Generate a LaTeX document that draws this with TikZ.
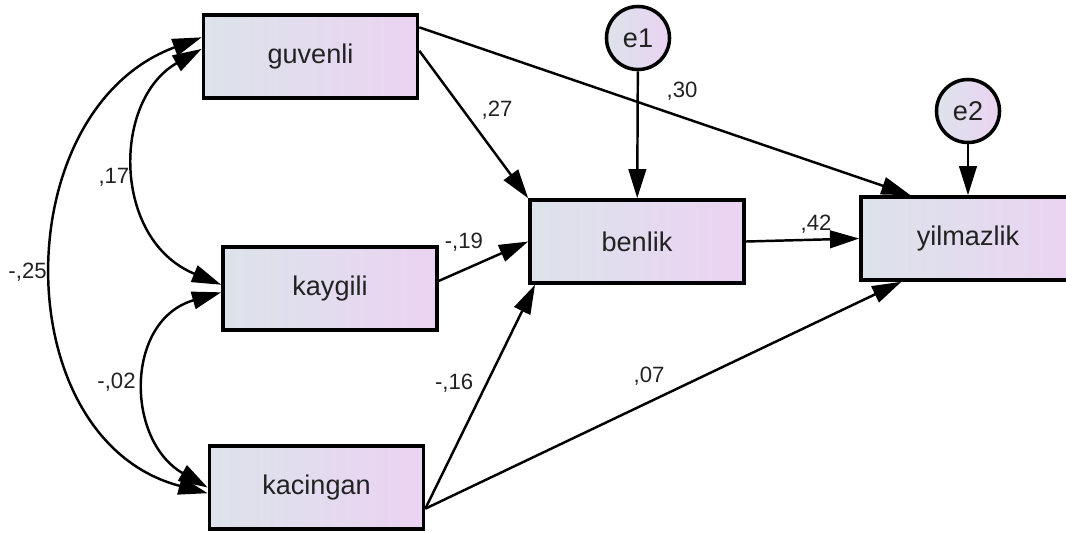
\documentclass[tikz,border=0pt]{standalone}
\usepackage{fontspec}
\setmainfont{Liberation Sans}
\usetikzlibrary{arrows.meta}
\definecolor{boxleft}{HTML}{DCE3EA}
\definecolor{boxright}{HTML}{EBD3F3}
\definecolor{inkgray}{HTML}{222222}

\begin{document}
\begin{tikzpicture}[x=0.01cm,y=-0.01cm,>={Triangle[length=8.3pt,width=5pt]},line width=0.7pt,
	var node/.style={rectangle,draw,line width=1pt,left color=boxleft,right color=boxright,
		minimum width=2.14cm,minimum height=0.83cm,text=inkgray,font=\fontsize{7.7}{9}\selectfont},
	err node/.style={circle,draw,line width=1pt,left color=boxleft,right color=boxright,
		minimum size=0.63cm,inner sep=0pt,text=inkgray,font=\fontsize{7.7}{9}\selectfont},
	coef/.style={font=\fontsize{6.3}{7.5}\selectfont,text=inkgray,inner sep=0pt}]
	
	\useasboundingbox (0,0) rectangle (1066,532);
	
	\node[var node] (guvenli) at (310.5,56.5) {guvenli};
	\node[var node] (kaygili) at (330,288.5) {kaygili};
	\node[var node] (kacingan) at (316.5,487.5) {kacingan};
	\node[var node] (benlik) at (637,241.5) {benlik};
	\node[var node] (yilmazlik) at (968,238.5) {yilmazlik};
	
	\node[err node] (e1) at (638,38) {e1};
	\node[err node] (e2) at (968,111) {e2};
	
	% regression paths
	\path[->]
	(guvenli.3) edge node[coef,pos=0.4,right=5pt] {,27} (benlik.north west)
	(guvenli.15) edge node[coef,pos=0.535,above=4.5pt] {,30} (yilmazlik.143)
	(kaygili.4) edge node[coef,pos=0.28,above=5pt] {-,19} (benlik.west)
	(kacingan.-11) edge node[coef,pos=0.56,left=3.5pt] {-,16} (benlik.203)
	(kacingan.-11) edge node[coef,pos=0.47,above=4.5pt] {,07} (yilmazlik.213)
	(benlik.east) edge node[coef,pos=0.62,above=1.5pt] {,42} (yilmazlik.west)
	(e1) edge (benlik)
	(e2) edge (yilmazlik);
	
	% covariances
	\draw[<->] (guvenli.176) .. controls (112,100) and (112,240) .. node[coef,pos=0.53,left=2pt] {,17} (kaygili.178);
	\draw[<->] (kaygili.182) .. controls (125,320) and (125,440) .. node[coef,pos=0.5,left=3pt] {-,02} (kacingan.west);
	\draw[<->] (guvenli.170) .. controls (5,110) and (5,440) .. node[coef,pos=0.5,left=2pt] {-,25} (kacingan.183);
	
\end{tikzpicture}
\end{document}
